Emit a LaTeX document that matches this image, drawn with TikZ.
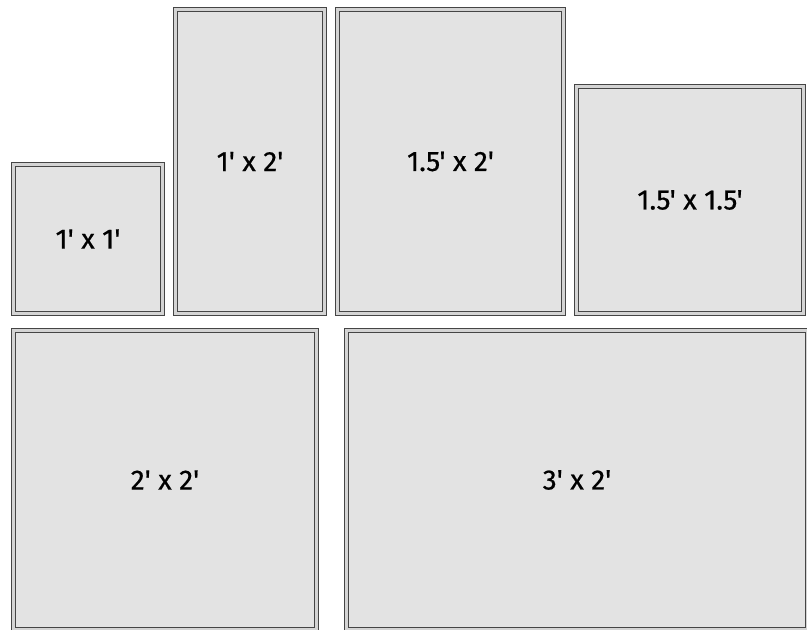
\documentclass[tikz,border=0pt]{standalone}
\usepackage{fontspec}
\setmainfont{Fira Sans}[Ligatures=TeXOff, FakeBold=0.6]
\definecolor{boxfill}{HTML}{E3E3E3}
\definecolor{boxline}{HTML}{454545}
\definecolor{boxgap}{HTML}{D4D4D4}
\tikzset{
  frame/.style={draw=boxline, line width=1.1pt, double=boxgap, double distance=2.8pt,
    fill=boxfill, rectangle, inner sep=0pt, font=\fontsize{28}{32}\selectfont, text=black}
}
\newcommand{\fbx}[6]{% name, x1, y1, x2, y2, text
  \node[frame, minimum width={#4-#2-5}, minimum height={#5-#3-5}]
    (#1) at ({(#2+#4)/2},{(#3+#5)/2}) {#6};
}
\begin{document}
\begin{tikzpicture}[x=1pt,y=-1pt]
\useasboundingbox (0,0) rectangle (807,630);
\clip (0,0) rectangle (807,630);
\fbx{b1}{11}{162}{165}{316}{1' x 1'}
\fbx{b2}{173}{7}{327}{316}{1' x 2'}
\fbx{b3}{335}{7}{566}{316}{1.5' x 2'}
\fbx{b4}{574}{84}{806}{316}{1.5' x 1.5'}
\fbx{b5}{11}{328}{319}{632}{2' x 2'}
\fbx{b6}{344}{328}{810}{632}{3' x 2'}
\end{tikzpicture}
\end{document}
